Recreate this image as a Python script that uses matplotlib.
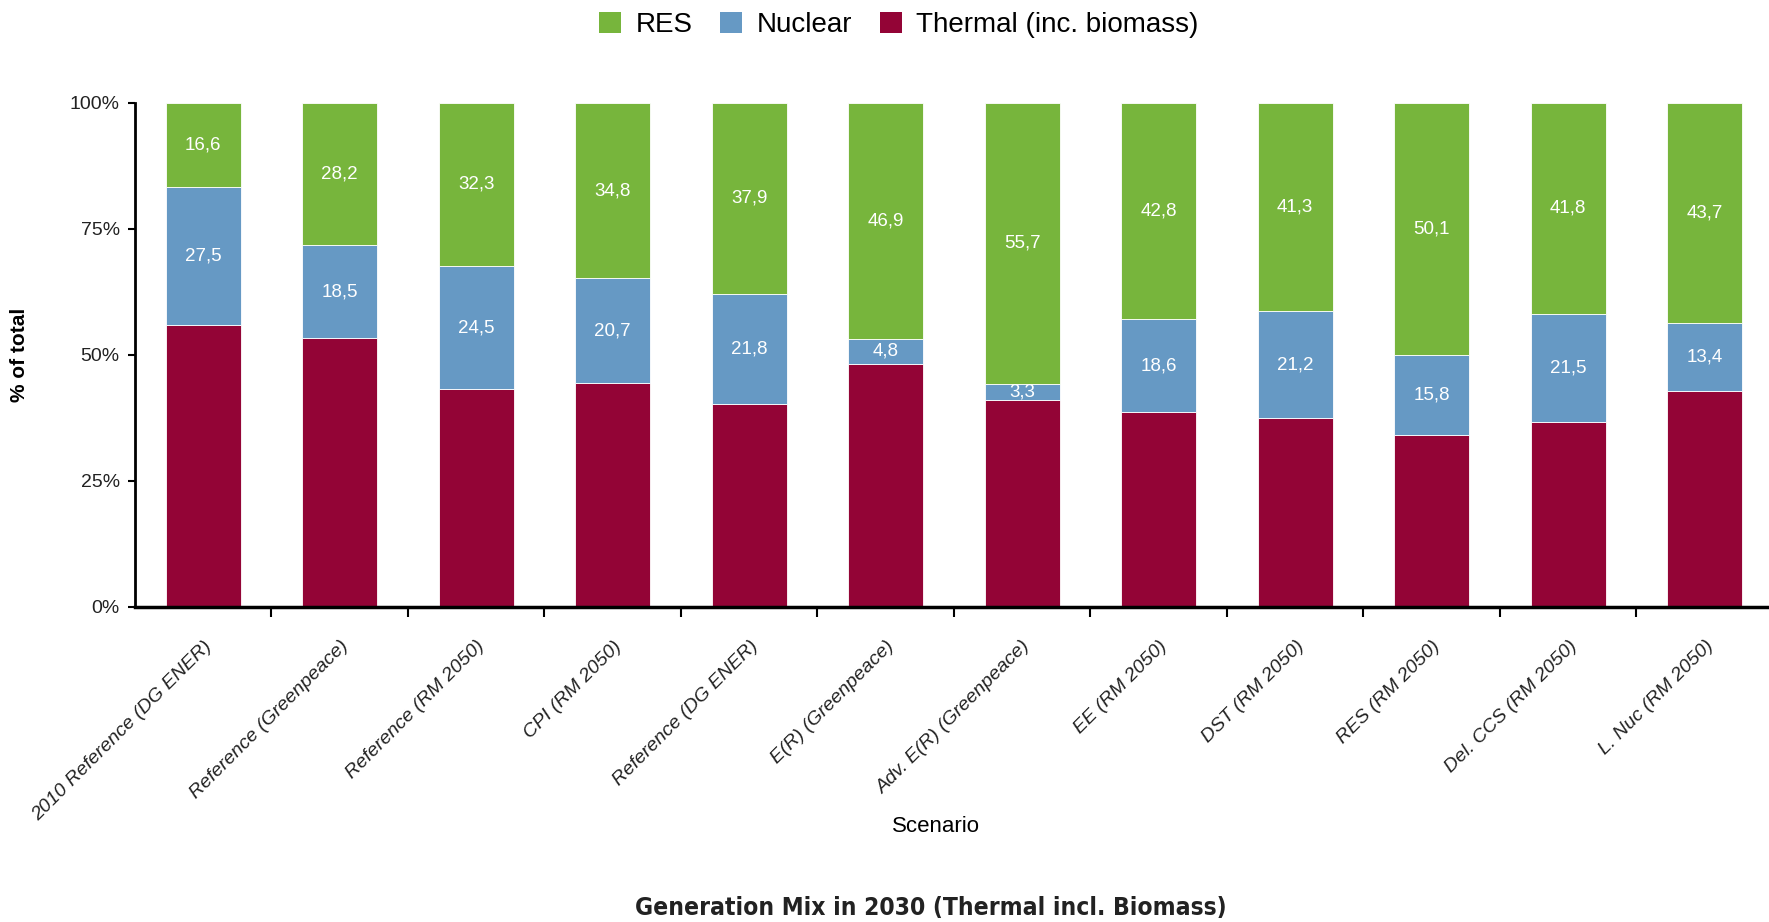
import matplotlib.pyplot as plt
import numpy as np
from matplotlib.patches import Patch
from matplotlib import font_manager

# =========================================================
# DATA (% of total)
# =========================================================
scenarios = [
    "2010 Reference (DG ENER)", "Reference (Greenpeace)", "Reference (RM 2050)",
    "CPI (RM 2050)", "Reference (DG ENER)", "E(R) (Greenpeace)",
    "Adv. E(R) (Greenpeace)", "EE (RM 2050)", "DST (RM 2050)",
    "RES (RM 2050)", "Del. CCS (RM 2050)", "L. Nuc (RM 2050)",
]
thermal = [55.9, 53.3, 43.2, 44.5, 40.3, 48.3, 41.0, 38.6, 37.5, 34.1, 36.7, 42.9]
nuclear = [27.5, 18.5, 24.5, 20.7, 21.8, 4.8, 3.3, 18.6, 21.2, 15.8, 21.5, 13.4]
res = [16.6, 28.2, 32.3, 34.8, 37.9, 46.9, 55.7, 42.8, 41.3, 50.1, 41.8, 43.7]

C_RES = "#77b53c"
C_NUC = "#6699c4"
C_THERM = "#930436"

plt.rcParams["font.family"] = ["Liberation Sans", "DejaVu Sans"]

# look for a condensed bold face for the title (falls back to Liberation Sans bold)
cond = [f for f in font_manager.fontManager.ttflist
        if ("Condensed" in f.name or "Narrow" in f.name or "condensed" in str(f.stretch))
        and f.weight in ("bold", 700) and f.style == "normal"]
if cond:
    title_prop = font_manager.FontProperties(fname=cond[0].fname)
else:
    title_prop = font_manager.FontProperties(family="Liberation Sans", weight="bold")

fig = plt.figure(figsize=(17.69, 9.22), dpi=100)
ax = fig.add_axes([0.0763, 0.3417, 1.003, 0.5466])

x = np.arange(len(scenarios))
w = 0.55
ax.bar(x, thermal, w, color=C_THERM, edgecolor="white", linewidth=0.6)
ax.bar(x, nuclear, w, bottom=thermal, color=C_NUC, edgecolor="white", linewidth=0.6)
bottom_res = np.array(thermal) + np.array(nuclear)
ax.bar(x, res, w, bottom=bottom_res, color=C_RES, edgecolor="white", linewidth=0.6)

# value labels for nuclear and RES, white, centered in segment
for i in range(len(x)):
    ax.text(x[i], thermal[i] + nuclear[i] / 2, f"{nuclear[i]:.1f}".replace(".", ","),
            ha="center", va="center", color="white", fontsize=13.5)
    ax.text(x[i], bottom_res[i] + res[i] / 2, f"{res[i]:.1f}".replace(".", ","),
            ha="center", va="center", color="white", fontsize=13.5)

ax.set_xlim(-0.5, 12.5)
ax.set_ylim(0, 100)
ax.set_yticks([0, 25, 50, 75, 100])
ax.set_yticklabels(["0%", "25%", "50%", "75%", "100%"], fontsize=14, color="#222222")

# major ticks between bars, labels on minor ticks at the bar centres
ax.set_xticks(np.arange(0.5, 12.5, 1.0))
ax.set_xticklabels([])
ax.set_xticks(x, minor=True)
ax.set_xticklabels(scenarios, minor=True, rotation=45, ha="right", va="top",
                   rotation_mode="anchor", fontsize=14, style="italic", color="#222222")
ax.tick_params(axis="x", which="major", length=7, width=1.5, direction="out")
ax.tick_params(axis="x", which="minor", length=0, pad=22)
ax.tick_params(axis="y", length=5, width=1.5, pad=6)

for s in ["top", "right"]:
    ax.spines[s].set_visible(False)
ax.spines["left"].set_linewidth(2)
ax.spines["bottom"].set_linewidth(2.5)

fig.text(0.0113, 0.615, "% of total", rotation=90, ha="center", va="center",
         fontsize=15, fontweight="bold")
fig.text(0.529, 0.104, "Scenario", ha="center", va="center", fontsize=16)

title = fig.text(0.526, 0.015, "Generation Mix in 2030 (Thermal incl. Biomass)",
                 ha="center", va="center", fontproperties=title_prop, fontsize=20,
                 color="#222222")
# squeeze the title to the width it has in the reference (~590 px)
fig.canvas.draw()
tw = title.get_window_extent().width
title.set_fontsize(20 * min(1.0, 590.0 / tw))

legend_elements = [
    Patch(facecolor=C_RES, label="RES"),
    Patch(facecolor=C_NUC, label="Nuclear"),
    Patch(facecolor=C_THERM, label="Thermal (inc. biomass)"),
]
fig.legend(handles=legend_elements, loc="center", bbox_to_anchor=(0.508, 0.973), ncol=3,
           frameon=False, fontsize=20, handlelength=0.8, handleheight=0.8,
           handletextpad=0.5, columnspacing=1.0)

fig.savefig("out.png", dpi=100)
